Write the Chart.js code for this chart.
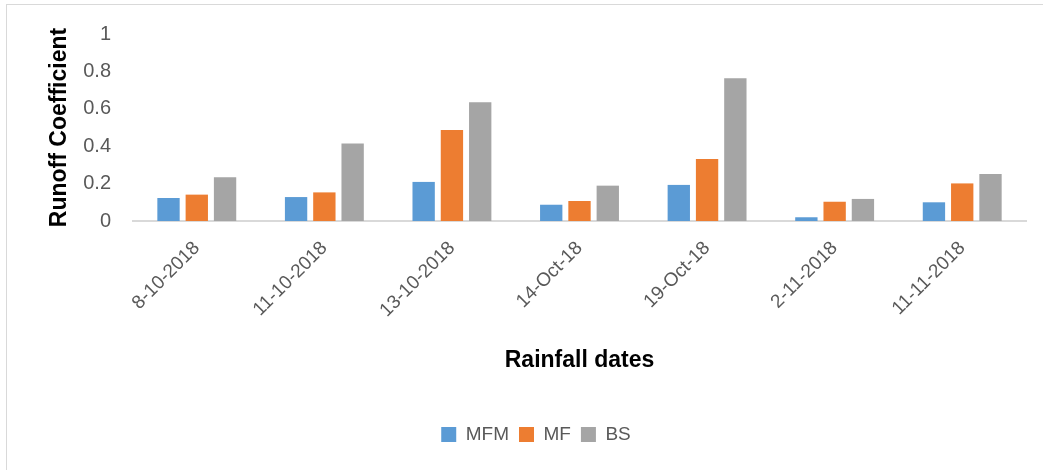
<!DOCTYPE html>
<html>
<head>
<meta charset="utf-8">
<script src="https://cdn.jsdelivr.net/npm/chart.js@4.4.1/dist/chart.umd.min.js"></script>
<style>
  html, body { margin: 0; padding: 0; background: #fff; }
  #wrap { position: relative; width: 1043px; height: 470px; overflow: hidden; }
  #frame { position: absolute; left: 6px; top: 4px; width: 1200px; height: 600px;
           border-top: 1px solid #d9d9d9; border-left: 1px solid #d9d9d9; }
  canvas { position: absolute; left: 0; top: 0; }
</style>
</head>
<body>
<div id="wrap">
  <div id="frame"></div>
  <canvas id="runoffChart" width="1043" height="470"></canvas>
</div>
<script>
const rainfallDates = ['8-10-2018', '11-10-2018', '13-10-2018', '14-Oct-18', '19-Oct-18', '2-11-2018', '11-11-2018'];
const mfm = [0.123, 0.128, 0.209, 0.087, 0.193, 0.020, 0.100];
const mf  = [0.141, 0.153, 0.487, 0.107, 0.332, 0.103, 0.201];
const bs  = [0.234, 0.415, 0.635, 0.189, 0.763, 0.118, 0.251];
const yTickLabels = ['0', '0.2', '0.4', '0.6', '0.8', '1'];

const labelFont = 'Liberation Sans, Arial, sans-serif';
const grey = '#595959';

function series(label, data, color) {
  return {
    label: label,
    data: data,
    backgroundColor: color,
    borderWidth: 0,
    categoryPercentage: 0.665,
    barPercentage: 0.79
  };
}

const ctx = document.getElementById('runoffChart').getContext('2d');
new Chart(ctx, {
  type: 'bar',
  data: {
    labels: rainfallDates,
    datasets: [
      series('MFM', mfm, '#5b9bd5'),
      series('MF', mf, '#ed7d31'),
      series('BS', bs, '#a5a5a5')
    ]
  },
  options: {
    responsive: false,
    animation: false,
    layout: { padding: { top: 33, left: 46, right: 17, bottom: 16 } },
    plugins: {
      tooltip: { enabled: false },
      legend: {
        position: 'bottom',
        labels: {
          color: grey,
          font: { family: labelFont, size: 19 },
          boxWidth: 15,
          boxHeight: 15,
          padding: 10
        }
      }
    },
    scales: {
      x: {
        grid: { display: false },
        border: { display: true, color: '#d9d9d9', width: 2 },
        ticks: {
          color: grey,
          font: { family: labelFont, size: 19 },
          minRotation: 45,
          maxRotation: 45,
          padding: 8
        },
        title: {
          display: true,
          text: 'Rainfall dates',
          color: '#000',
          font: { family: labelFont, size: 23, weight: 'bold' },
          padding: { top: 0, bottom: 41 }
        },
        afterFit: function (scale) { scale.height = 194; }
      },
      y: {
        min: 0,
        max: 1,
        grid: { display: false, drawTicks: false },
        border: { display: false },
        ticks: {
          stepSize: 0.2,
          color: grey,
          padding: 22,
          font: { family: labelFont, size: 20 },
          callback: function (value, index) { return yTickLabels[index]; }
        },
        title: {
          display: true,
          text: 'Runoff Coefficient',
          color: '#000',
          font: { family: labelFont, size: 23, weight: 'bold' },
          padding: { top: 0, bottom: 0 }
        },
        afterFit: function (scale) { scale.width = 87; }
      }
    }
  }
});
</script>
</body>
</html>
